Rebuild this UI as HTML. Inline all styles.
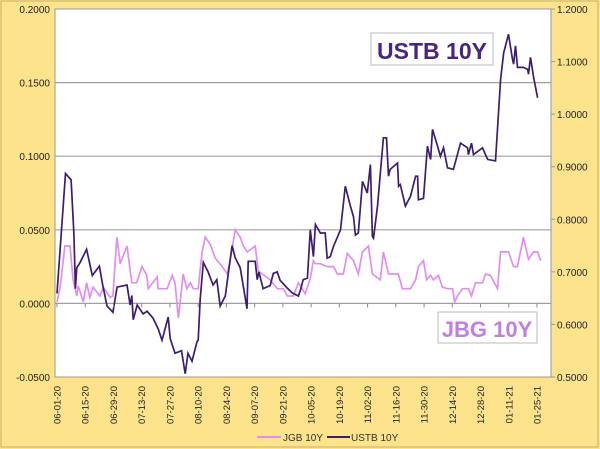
<!DOCTYPE html>
<html><head><meta charset="utf-8"><style>
body{margin:0;background:#fde38c;}
svg{display:block;font-family:"Liberation Sans",sans-serif;}
</style></head><body>
<svg id="c" width="600" height="449">
<rect x="1" y="1" width="597" height="446" fill="#fde38c" stroke="#c8b06a"/>
<rect x="55" y="9" width="496" height="368" fill="#fff" stroke="#9a9a9a"/>
<g id="grid"></g><g id="series"></g><g id="axes"></g>
<g>
<rect x="371" y="33" width="122" height="32" fill="#fff" stroke="#bbb"/>
<text x="432" y="59" text-anchor="middle" font-size="23" font-weight="bold" fill="#4a2580">USTB 10Y</text></g>
<g>
<rect x="438" y="312" width="99" height="31" fill="#fff" stroke="#bbb"/>
<text x="487" y="337" text-anchor="middle" font-size="22" font-weight="bold" fill="#c27ee0">JBG 10Y</text></g>
<g>
<g><line x1="257" y1="437" x2="281" y2="437" stroke="#e28ef0" stroke-width="2"/><text x="283" y="441" font-size="10" fill="#333">JGB 10Y</text></g>
<g><line x1="327" y1="437" x2="350" y2="437" stroke="#3c1d6e" stroke-width="2"/><text x="351" y="441" font-size="10" fill="#333">USTB 10Y</text></g>
</g>
</svg>
<script>
const tickLabels=["06-01-20","06-15-20","06-29-20","07-13-20","07-27-20","08-10-20","08-24-20","09-07-20","09-21-20","10-05-20","10-19-20","11-02-20","11-16-20","11-30-20","12-14-20","12-28-20","01-11-21","01-25-21"];
const leftTicks=[-0.05,0,0.05,0.1,0.15,0.2];
const rightTicks=[0.5,0.6,0.7,0.8,0.9,1.0,1.1,1.2];
const ustbDays=[0,3,5,6,6.5,7,8,10.5,12.5,15,16,17.7,19.8,21.3,24.8,25.9,26.5,27,28.4,30.5,31.9,34,35.8,37.2,39.4,40.1,41.8,44.1,45.4,46.4,47.8,49.6,50,50.7,51.8,53.5,55.3,56.6,57.8,59.6,60.6,62,63.1,64.9,67.3,67.7,70.2,70.9,71.5,73,75.5,76.6,78,79,81.4,83.3,85.5,86.2,87.2,88.7,89.7,90.8,91.5,93.3,95,95.7,96.8,97.9,100.4,102.1,103.9,105,105.7,106.7,108.2,109.9,111,111.7,112.1,113.5,115.6,116.7,117.4,118,120.6,121,121.6,123.4,125.2,127,127.7,128,129.8,131.2,132.3,133,134.8,135.8,136.9,138.3,140.4,142.9,145.4,145.7,146.8,147.5,150.7,152.5,155.3,157.1,158.2,159.9,161.3,161.7,162.4,163.1,165.2,166.7,167,167.7,168.8,170.2];
const ustbVals=[.659,.887,.875,.772,.668,.708,.716,.743,.693,.711,.68,.635,.623,.671,.675,.637,.655,.609,.637,.62,.625,.612,.592,.57,.614,.573,.545,.55,.506,.545,.53,.567,.57,.648,.718,.70,.675,.685,.635,.654,.694,.75,.727,.708,.63,.72,.72,.685,.70,.668,.674,.697,.70,.684,.67,.66,.654,.665,.685,.688,.78,.729,.79,.774,.774,.726,.729,.748,.78,.863,.825,.805,.77,.774,.872,.85,.904,.767,.764,.825,.955,.955,.882,.895,.907,.863,.866,.825,.844,.882,.882,.837,.84,.939,.914,.971,.939,.92,.936,.898,.895,.945,.936,.923,.945,.923,.936,.914,.911,1.066,1.117,1.152,1.105,1.095,1.13,1.089,1.089,1.085,1.076,1.108,1.07,1.031];
const jgbDays=[0,1.1,2.8,4.6,5.7,7,7.5,9.3,10.5,11.6,12.8,15.2,16.4,18.8,19.8,21.2,22.4,24.8,26.5,28.2,30.1,31.8,32.3,35.5,35.8,39,40.8,41.8,43,44.7,46,47.2,48.3,50,51.4,52.5,54.3,56,58.5,60.3,61.3,63.1,64.9,66,67.4,70.2,71.3,72.7,75.5,78,80.1,81.6,83.7,85.5,86.2,87.9,89.7,90.8,91.5,93.3,95.7,97.9,99.3,101.4,102.8,105,106.7,108.2,110.3,111.7,114.5,115.6,117.4,120.9,122.3,125.2,127,128,129.8,130.9,132.3,133.3,135.1,136.5,138.3,140.1,140.8,141.8,143.6,145.7,146.8,148.2,150.7,151.8,153.5,156,157.1,159.9,161.7,163.1,165.2,167,168.8,170.2,171.3];
const jgbVals=[.001,.011,.039,.039,.016,.005,.012,.001,.014,.004,.011,.005,.011,.004,.005,.045,.027,.039,.014,.014,.025,.019,.01,.018,.01,.01,.019,.014,-.01,.02,.01,.014,.01,.01,.035,.045,.04,.031,.025,.02,.029,.05,.045,.039,.035,.039,.022,.02,.016,.01,.01,.005,.005,.014,.012,.0066,.017,.029,.027,.027,.025,.025,.02,.02,.034,.029,.02,.035,.039,.02,.016,.035,.02,.02,.01,.01,.016,.025,.029,.016,.019,.016,.019,.011,.01,.01,.001,.005,.01,.01,.005,.014,.014,.02,.019,.01,.035,.035,.025,.025,.045,.03,.035,.035,.029];

const NS="http://www.w3.org/2000/svg";
const X0=55,X1=551,Y0=9,Y1=377;
const xs=d=>57+d*(480/170);
const yl=v=>Y1-(v-(-0.05))/(0.25)*(Y1-Y0);
const yr=v=>Y1-(v-0.5)/(0.7)*(Y1-Y0);
function mk(tag,attrs,parent){const e=document.createElementNS(NS,tag);for(const k in attrs)e.setAttribute(k,attrs[k]);parent.appendChild(e);return e;}
const grid=document.getElementById('grid'),axes=document.getElementById('axes'),ser=document.getElementById('series');
leftTicks.forEach(v=>{
  if(v>-0.05&&v<0.2){const g=mk('line',{x1:X0,x2:X1,y1:yl(v),y2:yl(v),stroke:'#a0a0a0','stroke-width':1.2},grid);
  
  }
  const t=mk('text',{x:50,y:yl(v)+4,'text-anchor':'end','font-size':10,fill:'#222'},axes);
  t.textContent=v.toFixed(4);
  
  
});
rightTicks.forEach(v=>{
  const t=mk('text',{x:557,y:yr(v)+4,'font-size':10,fill:'#222'},axes);
  t.textContent=v.toFixed(4);
  
  
  mk('line',{x1:X1,x2:X1+4,y1:yr(v),y2:yr(v),stroke:'#999'},axes);
});
tickLabels.forEach((s,i)=>{
  const x=xs(i*10);
  mk('line',{x1:x,x2:x,y1:yl(0),y2:yl(0)+4,stroke:'#888'},axes);
  const t=mk('text',{transform:`translate(${x+3.5},386) rotate(-90)`,'text-anchor':'end','font-size':9.5,fill:'#222'},axes);
  t.textContent=s;
  
  
});
const jp=jgbDays.map((d,i)=>xs(d).toFixed(1)+','+yl(jgbVals[i]).toFixed(1)).join(' ');
const jl=mk('polyline',{points:jp,fill:'none',stroke:'#e28ef0','stroke-width':1.7},ser);


const up=ustbDays.map((d,i)=>xs(d).toFixed(1)+','+yr(ustbVals[i]).toFixed(1)).join(' ');
const ul=mk('polyline',{points:up,fill:'none',stroke:'#3c1d6e','stroke-width':1.7},ser);


</script>
</body></html>
